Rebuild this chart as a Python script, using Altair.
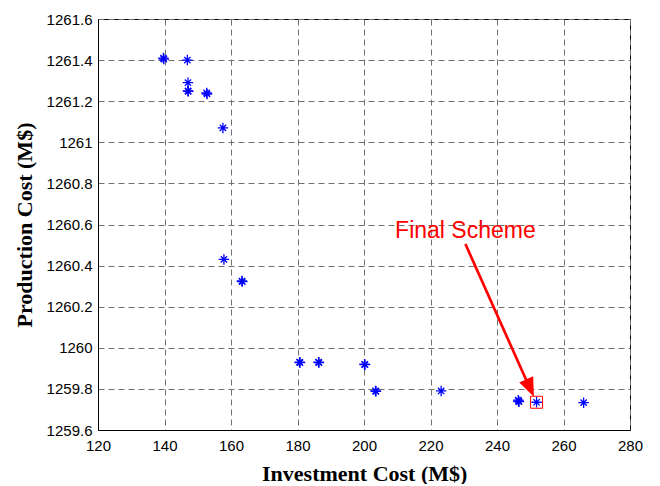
import altair as alt
import pandas as pd

# Pareto solutions (Investment Cost, Production Cost)
invest = [139.65, 139.8, 146.87, 147.05, 147.05, 147.15, 152.67, 152.8, 157.57,
          157.87, 163.28, 163.4, 180.62, 180.75, 186.33, 186.45, 200.15, 200.3,
          203.46, 203.6, 223.2, 246.4, 246.5, 246.6, 251.9, 266.05]
produce = [1261.41, 1261.405, 1261.40, 1261.29, 1261.25, 1261.248, 1261.24, 1261.235,
           1261.07, 1260.43, 1260.325, 1260.322, 1259.93, 1259.928, 1259.93, 1259.928,
           1259.92, 1259.918, 1259.79, 1259.788, 1259.79, 1259.745, 1259.74, 1259.738,
           1259.735, 1259.733]

# Final scheme
final_x = [251.9]
final_y = [1259.735]

# Annotation
label_text = ["Final Scheme"]
label_x = [230.5]
label_y = [1260.533]
arrow_x = [230.5]
arrow_y = [1260.505]
arrow_x2 = [249.8]
arrow_y2 = [1259.807]
tip_x = [251.1]
tip_y = [1259.762]

x_ticks = [120, 140, 160, 180, 200, 220, 240, 260, 280]
y_ticks = [1259.6, 1259.8, 1260.0, 1260.2, 1260.4, 1260.6, 1260.8, 1261.0, 1261.2, 1261.4, 1261.6]

pts = pd.DataFrame({"x": invest, "y": produce})
fin = pd.DataFrame({"x": final_x, "y": final_y})
lab = pd.DataFrame({"x": label_x, "y": label_y, "t": label_text})
arr = pd.DataFrame({"x": arrow_x, "y": arrow_y, "x2": arrow_x2, "y2": arrow_y2})
tip = pd.DataFrame({"x": tip_x, "y": tip_y})

xscale = alt.Scale(domain=[120, 280], nice=False, zero=False)
yscale = alt.Scale(domain=[1259.6, 1261.6], nice=False, zero=False)

xaxis = alt.Axis(values=x_ticks, format="d", title="Investment Cost (M$)",
                 labelPadding=8, labelFlush=False, labelOverlap=False,
                 titleX=266.2, titleY=50, titleBaseline="alphabetic", titleAlign="center")
yaxis = alt.Axis(values=y_ticks, format=".1~f", title="Production Cost (M$)",
                 labelPadding=6, labelFlush=False, labelOverlap=False,
                 titleX=-66.6, titleY=205.5, titleBaseline="alphabetic",
                 titleAlign="center", titleAngle=270)

X = alt.X("x:Q", scale=xscale, axis=xaxis)
Y = alt.Y("y:Q", scale=yscale, axis=yaxis)

asterisk = "M-1,0L1,0M0,-1L0,1M-0.6,-0.6L0.6,0.6M-0.6,0.6L0.6,-0.6"

points = alt.Chart(pts).mark_point(shape=asterisk, filled=False, color="#0000FF",
                                   size=110, strokeWidth=1.3, opacity=1).encode(x=X, y=Y)

square = alt.Chart(fin).mark_point(shape="square", filled=False, color="#FF0000",
                                   size=144, strokeWidth=1, opacity=1).encode(x=X, y=Y)

arrow = alt.Chart(arr).mark_rule(color="#FF0000", strokeWidth=2.7).encode(
    x=X, y=Y, x2="x2:Q", y2="y2:Q")

head = alt.Chart(tip).mark_point(shape="M0,0L-0.4,-1L0.4,-1Z", filled=True, color="#FF0000",
                                 size=1444, angle=336.1, opacity=1, strokeWidth=0).encode(x=X, y=Y)

text = alt.Chart(lab).mark_text(font="Liberation Sans", fontSize=23, color="#FF0000",
                                align="center", baseline="alphabetic").encode(x=X, y=Y, text="t:N")

chart = alt.layer(points, square, arrow, head, text).properties(
    width=532, height=411,
    autosize=alt.AutoSizeParams(type="none"),
    padding={"left": 90, "top": 11, "right": 20, "bottom": 54},
).configure_view(
    stroke="black", strokeWidth=1
).configure_axis(
    domainColor="black", domainWidth=1,
    grid=True, gridColor="#707070", gridDash=[6, 4], gridWidth=1, gridOpacity=1,
    ticks=False, tickSize=0,
    labelFont="Liberation Sans", labelFontSize=15, labelColor="black",
    titleFont="Liberation Serif", titleFontSize=22, titleFontWeight="bold", titleColor="black",
)

chart.save("out.html", embed_options={"renderer": "svg", "actions": False})
